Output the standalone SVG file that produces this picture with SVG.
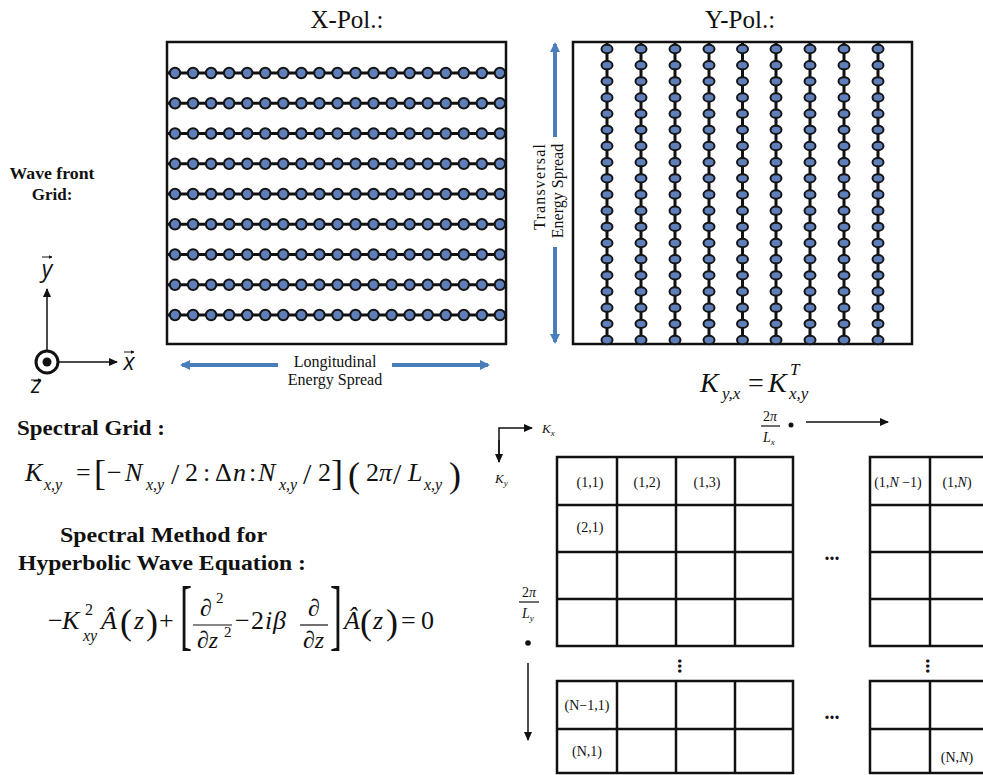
<svg xmlns="http://www.w3.org/2000/svg" xmlns:xlink="http://www.w3.org/1999/xlink" width="983" height="775" viewBox="0 0 983 775">
<style>
  .serif { font-family: "Liberation Serif", "Times New Roman", "DejaVu Serif", serif; fill: #111; }
  .it { font-style: italic; }
  .bold { font-weight: bold; }
  .box { fill: none; stroke: #111; stroke-width: 2.5; }
  .grid { stroke: #111; stroke-width: 2.5; fill: none; }
  .chain { stroke: #111; stroke-width: 3; }
  .dot { fill: #5f7fba; stroke: #151515; stroke-width: 2; }
  .blue { stroke: #4a7ebb; stroke-width: 4; fill: none; }
  .thin { stroke: #111; stroke-width: 1.5; fill: none; }
  .fl { stroke: #111; stroke-width: 1.2; }
  .ax { font-family: "Open Sans", "DejaVu Sans", sans-serif; font-style: italic; font-size: 23px; fill: #111; }
</style>
<defs>
  <marker id="bh" markerWidth="10" markerHeight="10" refX="8" refY="5" orient="auto" markerUnits="userSpaceOnUse" viewBox="0 0 10 10">
    <path d="M0,0 L10,5 L0,10 z" fill="#4a7ebb"/>
  </marker>
  <marker id="kh" markerWidth="9" markerHeight="8" refX="8" refY="4" orient="auto" markerUnits="userSpaceOnUse">
    <path d="M0,0 L9,4 L0,8 z" fill="#111"/>
  </marker>
  <marker id="ah" markerWidth="4" markerHeight="4" refX="3.5" refY="2" orient="auto" markerUnits="userSpaceOnUse">
    <path d="M0,0 L4,2 L0,4 z" fill="#111"/>
  </marker>
  <g id="xrow">
    <line class="chain" x1="168" y1="0" x2="505" y2="0"/>
    <circle class="dot" cx="175" cy="0" r="5.2"/>
    <circle class="dot" cx="193.05" cy="0" r="5.2"/>
    <circle class="dot" cx="211.1" cy="0" r="5.2"/>
    <circle class="dot" cx="229.15" cy="0" r="5.2"/>
    <circle class="dot" cx="247.2" cy="0" r="5.2"/>
    <circle class="dot" cx="265.25" cy="0" r="5.2"/>
    <circle class="dot" cx="283.3" cy="0" r="5.2"/>
    <circle class="dot" cx="301.35" cy="0" r="5.2"/>
    <circle class="dot" cx="319.4" cy="0" r="5.2"/>
    <circle class="dot" cx="337.45" cy="0" r="5.2"/>
    <circle class="dot" cx="355.5" cy="0" r="5.2"/>
    <circle class="dot" cx="373.55" cy="0" r="5.2"/>
    <circle class="dot" cx="391.6" cy="0" r="5.2"/>
    <circle class="dot" cx="409.65" cy="0" r="5.2"/>
    <circle class="dot" cx="427.7" cy="0" r="5.2"/>
    <circle class="dot" cx="445.75" cy="0" r="5.2"/>
    <circle class="dot" cx="463.8" cy="0" r="5.2"/>
    <circle class="dot" cx="481.85" cy="0" r="5.2"/>
    <circle class="dot" cx="499.9" cy="0" r="5.2"/>
  </g>
  <g id="ycol">
    <line class="chain" x1="0" y1="43" x2="0" y2="344" stroke-width="3.5"/>
    <ellipse class="dot" cx="0" cy="49" rx="5.5" ry="4.2"/>
    <ellipse class="dot" cx="0" cy="65.17" rx="5.5" ry="4.2"/>
    <ellipse class="dot" cx="0" cy="81.33" rx="5.5" ry="4.2"/>
    <ellipse class="dot" cx="0" cy="97.5" rx="5.5" ry="4.2"/>
    <ellipse class="dot" cx="0" cy="113.67" rx="5.5" ry="4.2"/>
    <ellipse class="dot" cx="0" cy="129.83" rx="5.5" ry="4.2"/>
    <ellipse class="dot" cx="0" cy="146" rx="5.5" ry="4.2"/>
    <ellipse class="dot" cx="0" cy="162.17" rx="5.5" ry="4.2"/>
    <ellipse class="dot" cx="0" cy="178.33" rx="5.5" ry="4.2"/>
    <ellipse class="dot" cx="0" cy="194.5" rx="5.5" ry="4.2"/>
    <ellipse class="dot" cx="0" cy="210.67" rx="5.5" ry="4.2"/>
    <ellipse class="dot" cx="0" cy="226.83" rx="5.5" ry="4.2"/>
    <ellipse class="dot" cx="0" cy="243" rx="5.5" ry="4.2"/>
    <ellipse class="dot" cx="0" cy="259.17" rx="5.5" ry="4.2"/>
    <ellipse class="dot" cx="0" cy="275.33" rx="5.5" ry="4.2"/>
    <ellipse class="dot" cx="0" cy="291.5" rx="5.5" ry="4.2"/>
    <ellipse class="dot" cx="0" cy="307.67" rx="5.5" ry="4.2"/>
    <ellipse class="dot" cx="0" cy="323.83" rx="5.5" ry="4.2"/>
    <ellipse class="dot" cx="0" cy="340" rx="5.5" ry="4.2"/>
  </g>
</defs>
<rect x="0" y="0" width="983" height="775" fill="#ffffff"/>

<!-- X-Pol grid -->
<g id="xpol">
  <text class="serif" x="347" y="28" font-size="25" text-anchor="middle">X-Pol.:</text>
  <rect class="box" x="167" y="42" width="339" height="302"/>
  <use xlink:href="#xrow" y="73"/>
  <use xlink:href="#xrow" y="103.25"/>
  <use xlink:href="#xrow" y="133.5"/>
  <use xlink:href="#xrow" y="163.75"/>
  <use xlink:href="#xrow" y="194"/>
  <use xlink:href="#xrow" y="224.25"/>
  <use xlink:href="#xrow" y="254.5"/>
  <use xlink:href="#xrow" y="284.75"/>
  <use xlink:href="#xrow" y="315"/>
</g>

<!-- Y-Pol grid -->
<g id="ypol">
  <text class="serif" x="740" y="28" font-size="25" text-anchor="middle">Y-Pol.:</text>
  <rect class="box" x="573" y="42" width="339" height="302"/>
  <use xlink:href="#ycol" x="607"/>
  <use xlink:href="#ycol" x="641"/>
  <use xlink:href="#ycol" x="675"/>
  <use xlink:href="#ycol" x="709"/>
  <use xlink:href="#ycol" x="742.5"/>
  <use xlink:href="#ycol" x="776"/>
  <use xlink:href="#ycol" x="810"/>
  <use xlink:href="#ycol" x="844"/>
  <use xlink:href="#ycol" x="878"/>
</g>

<!-- Spread labels -->
<g id="longitudinal">
  <text class="serif" x="335" y="367" font-size="16" text-anchor="middle">Longitudinal</text>
  <text class="serif" x="335" y="385" font-size="16" text-anchor="middle">Energy Spread</text>
</g>
<g id="transversal">
  <text class="serif" transform="translate(545,187) rotate(-90)" font-size="16" text-anchor="middle" textLength="86">Transversal</text>
  <text class="serif" transform="translate(563,191) rotate(-90)" font-size="16" text-anchor="middle">Energy Spread</text>
</g>

<g id="wavefront">
  <text class="serif bold" x="52" y="179" font-size="17" text-anchor="middle" textLength="85" lengthAdjust="spacingAndGlyphs">Wave front</text>
  <text class="serif bold" x="52" y="200" font-size="17" text-anchor="middle">Grid:</text>
</g>

<g id="axes">
  <circle cx="47" cy="362" r="11" fill="none" stroke="#111" stroke-width="3"/>
  <circle cx="47" cy="362" r="4.5" fill="#111"/>
  <text class="ax" x="47" y="277" text-anchor="middle">y</text>
  <text class="ax" x="129" y="370" text-anchor="middle">x</text>
  <text class="ax" x="36" y="393" text-anchor="middle">z</text>
</g>

<g id="spectral-grid">
  <text class="serif bold" x="17" y="435" font-size="21" textLength="148" lengthAdjust="spacingAndGlyphs">Spectral Grid :</text>
  <g class="serif" font-size="26">
    <text class="it" x="25" y="481">K</text>
    <text class="it" x="44" y="490" font-size="16">x,y</text>
    <text x="76" y="481">=</text>
    <text x="94" y="485" font-size="36">[</text>
    <text x="107" y="481">−</text>
    <text class="it" x="125" y="481">N</text>
    <text class="it" x="146" y="490" font-size="16">x,y</text>
    <text x="171" y="484" font-size="30">/</text>
    <text x="185" y="481">2</text>
    <text x="203" y="481">:</text>
    <text x="215" y="481">Δ</text>
    <text class="it" x="233" y="481">n</text>
    <text x="249" y="481">:</text>
    <text class="it" x="258" y="481">N</text>
    <text class="it" x="279" y="490" font-size="16">x,y</text>
    <text x="303" y="484" font-size="30">/</text>
    <text x="318" y="481">2</text>
    <text x="331" y="485" font-size="36">]</text>
    <text x="348" y="487" font-size="36">(</text>
    <text x="366" y="481">2</text>
    <text class="it" x="379" y="481">π</text>
    <text x="393" y="484" font-size="30">/</text>
    <text class="it" x="408" y="481">L</text>
    <text class="it" x="424" y="490" font-size="16">x,y</text>
    <text x="449" y="487" font-size="36">)</text>
  </g>
</g>

<g id="spectral-method">
  <text class="serif bold" x="60" y="542" font-size="21" textLength="207" lengthAdjust="spacingAndGlyphs">Spectral Method for</text>
  <text class="serif bold" x="18" y="570" font-size="21" textLength="288" lengthAdjust="spacingAndGlyphs">Hyperbolic Wave Equation :</text>
  <g class="serif" font-size="26">
    <text x="48" y="629">−</text>
    <text class="it" x="62" y="629">K</text>
    <text x="85" y="615" font-size="16">2</text>
    <text class="it" x="83" y="641" font-size="16">xy</text>
    <text class="it" x="101" y="629">Â</text>
    <text x="120" y="634" font-size="36">(</text>
    <text class="it" x="134" y="629">z</text>
    <text x="146" y="634" font-size="36">)</text>
    <text x="159" y="629">+</text>
    <text transform="translate(180,641) scale(1,2.15)" font-size="36">[</text>
    <text x="200" y="616" font-size="24">∂</text>
    <text x="216" y="603" font-size="15">2</text>
    <line class="fl" x1="193" y1="625" x2="232" y2="625"/>
    <text x="197" y="648" font-size="24">∂<tspan class="it">z</tspan></text>
    <text x="224" y="637" font-size="15">2</text>
    <text x="235" y="629">−</text>
    <text x="251" y="629">2</text>
    <text class="it" x="265" y="629">i</text>
    <text class="it" x="273" y="629">β</text>
    <text x="308" y="616" font-size="24">∂</text>
    <line class="fl" x1="300" y1="625" x2="328" y2="625"/>
    <text x="303" y="648" font-size="24">∂<tspan class="it">z</tspan></text>
    <text transform="translate(330,641) scale(1,2.15)" font-size="36">]</text>
    <text class="it" x="344" y="629">Â</text>
    <text x="360" y="634" font-size="36">(</text>
    <text class="it" x="373" y="629">z</text>
    <text x="386" y="634" font-size="36">)</text>
    <text x="401" y="629">=</text>
    <text x="421" y="629">0</text>
  </g>
</g>

<!-- Matrix -->
<g id="ktrans">
  <g class="serif" font-size="28">
    <text class="it" x="700" y="392">K</text>
    <text class="it" x="722" y="399" font-size="17">y,x</text>
    <text x="748" y="392">=</text>
    <text class="it" x="768" y="392">K</text>
    <text class="it" x="790" y="375" font-size="17">T</text>
    <text class="it" x="789" y="399" font-size="17">x,y</text>
  </g>
</g>

<g id="kaxes">
  <text class="serif it" x="542" y="433" font-size="13">K<tspan font-size="9" dy="3">x</tspan></text>
  <text class="serif it" x="495" y="483" font-size="13">K<tspan font-size="9" dy="3">y</tspan></text>
  <text class="serif" x="770" y="421" font-size="14" text-anchor="middle">2<tspan class="it">π</tspan></text>
  <line class="fl" x1="761" y1="426" x2="780" y2="426"/>
  <text class="serif it" x="763" y="442" font-size="14">L<tspan font-size="9" dy="3">x</tspan></text>
  <circle cx="791" cy="425" r="2.5" fill="#111"/>
  <text class="serif" x="529" y="597" font-size="14" text-anchor="middle">2<tspan class="it">π</tspan></text>
  <line class="fl" x1="519" y1="602" x2="539" y2="602"/>
  <text class="serif it" x="522" y="618" font-size="14">L<tspan font-size="9" dy="3">y</tspan></text>
  <circle cx="528" cy="643" r="2.8" fill="#111"/>
</g>

<g id="matrix">
  <rect class="grid" x="557" y="457" width="236" height="189"/>
  <line class="grid" x1="617" y1="457" x2="617" y2="646"/>
  <line class="grid" x1="676" y1="457" x2="676" y2="646"/>
  <line class="grid" x1="735" y1="457" x2="735" y2="646"/>
  <line class="grid" x1="557" y1="505" x2="793" y2="505"/>
  <line class="grid" x1="557" y1="552" x2="793" y2="552"/>
  <line class="grid" x1="557" y1="599" x2="793" y2="599"/>

  <rect class="grid" x="557" y="681" width="236" height="92"/>
  <line class="grid" x1="617" y1="681" x2="617" y2="773"/>
  <line class="grid" x1="676" y1="681" x2="676" y2="773"/>
  <line class="grid" x1="735" y1="681" x2="735" y2="773"/>
  <line class="grid" x1="557" y1="729" x2="793" y2="729"/>

  <rect class="grid" x="870" y="457" width="130" height="189"/>
  <line class="grid" x1="930" y1="457" x2="930" y2="646"/>
  <line class="grid" x1="870" y1="505" x2="990" y2="505"/>
  <line class="grid" x1="870" y1="552" x2="990" y2="552"/>
  <line class="grid" x1="870" y1="599" x2="990" y2="599"/>

  <rect class="grid" x="870" y="681" width="130" height="92"/>
  <line class="grid" x1="930" y1="681" x2="930" y2="773"/>
  <line class="grid" x1="870" y1="729" x2="990" y2="729"/>

  <g class="serif" font-size="14" text-anchor="middle">
    <text x="590" y="487">(1,1)</text>
    <text x="647" y="487">(1,2)</text>
    <text x="707" y="487">(1,3)</text>
    <text x="898" y="487">(1,<tspan class="it">N</tspan> −1)</text>
    <text x="957" y="487">(1,<tspan class="it">N</tspan>)</text>
    <text x="590" y="532">(2,1)</text>
    <text x="587" y="710">(N−1,1)</text>
    <text x="587" y="756">(N,1)</text>
    <text x="957" y="762">(N,<tspan class="it">N</tspan>)</text>
  </g>
  <g class="serif bold" font-size="20" text-anchor="middle">
    <text x="832" y="560">...</text>
    <text x="832" y="719">...</text>
    <text transform="translate(678,666) rotate(90)">...</text>
    <text transform="translate(926,666) rotate(90)">...</text>
  </g>
</g>

<g id="connectors">
  <line class="blue" x1="278" y1="365" x2="182" y2="365" marker-end="url(#bh)"/>
  <line class="blue" x1="392" y1="365" x2="488" y2="365" marker-end="url(#bh)"/>
  <line class="blue" x1="555" y1="137" x2="555" y2="44" marker-end="url(#bh)"/>
  <line class="blue" x1="555" y1="247" x2="555" y2="342" marker-end="url(#bh)"/>
  <line class="thin" x1="47" y1="350" x2="47" y2="289" marker-end="url(#kh)"/>
  <line class="thin" x1="59" y1="362" x2="117" y2="362" marker-end="url(#kh)"/>
  <line stroke="#111" stroke-width="1" x1="42" y1="257" x2="52" y2="257" marker-end="url(#ah)"/>
  <line stroke="#111" stroke-width="1" x1="124" y1="352" x2="134" y2="352" marker-end="url(#ah)"/>
  <line stroke="#111" stroke-width="1" x1="31" y1="380" x2="41" y2="380" marker-end="url(#ah)"/>
  <path class="thin" d="M499,462 L499,428 L532,428" marker-end="url(#kh)"/>
  <line class="thin" x1="499" y1="440" x2="499" y2="462" marker-end="url(#kh)"/>
  <line class="thin" x1="806" y1="422" x2="888" y2="422" marker-end="url(#kh)"/>
  <line class="thin" x1="528" y1="663" x2="528" y2="740" marker-end="url(#kh)"/>
</g>
</svg>
